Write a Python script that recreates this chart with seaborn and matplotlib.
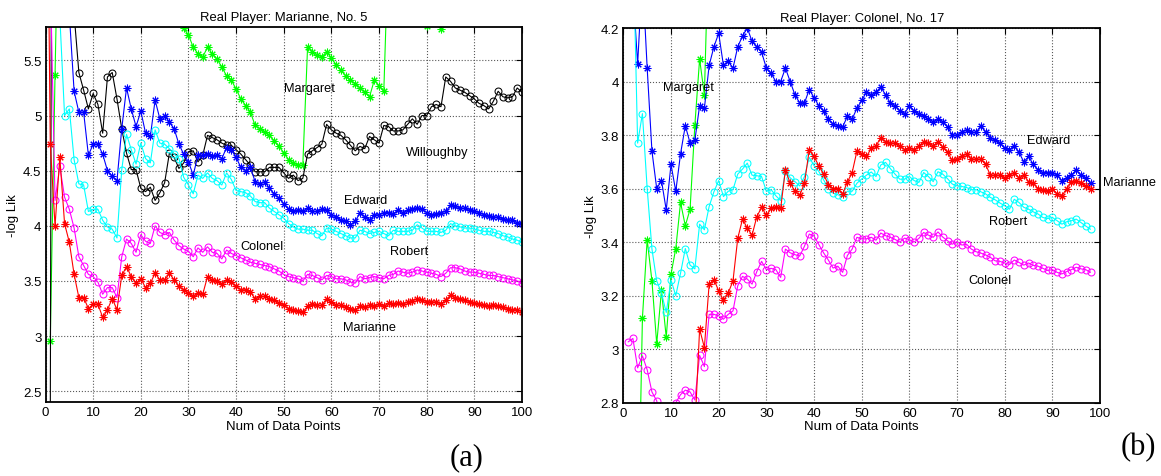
import numpy as np
import matplotlib
matplotlib.use("Agg")
import matplotlib.pyplot as plt
import seaborn as sns
from matplotlib.ticker import MultipleLocator, FormatStrFormatter

nan = np.nan

# ---- panel (a): Real Player Marianne, x = 0..100 (values above 5.8 / below 2.4 are off the axes)
x_a = np.arange(0, 101)

marianne_a = [9.0, 4.74, 4.00, 4.62, 4.02, 3.85, 3.56, 3.35, 3.35, 3.25,
              3.29, 3.29, 3.17, 3.24, 3.34, 3.24, 3.55, 3.63, 3.54, 3.48,
              3.52, 3.44, 3.48, 3.57, 3.51, 3.51, 3.57, 3.51, 3.45, 3.42,
              3.39, 3.36, 3.39, 3.38, 3.54, 3.51, 3.50, 3.47, 3.51, 3.49,
              3.45, 3.42, 3.42, 3.40, 3.34, 3.36, 3.36, 3.34, 3.33, 3.30,
              3.28, 3.25, 3.24, 3.23, 3.22, 3.27, 3.29, 3.28, 3.28, 3.34,
              3.31, 3.28, 3.28, 3.26, 3.25, 3.24, 3.27, 3.26, 3.28, 3.27,
              3.29, 3.27, 3.30, 3.29, 3.30, 3.29, 3.31, 3.32, 3.34, 3.33,
              3.31, 3.31, 3.31, 3.29, 3.33, 3.37, 3.35, 3.34, 3.33, 3.31,
              3.30, 3.29, 3.28, 3.27, 3.28, 3.27, 3.26, 3.25, 3.24, 3.24,
              3.22]

colonel_a = [nan, 6.3, 4.23, 4.54, 4.26, 4.15, 3.98, 3.72, 3.64, 3.56,
             3.54, 3.49, 3.38, 3.44, 3.44, 3.35, 3.72, 3.88, 3.84, 3.76,
             3.92, 3.86, 3.84, 4.00, 3.94, 3.92, 3.94, 3.87, 3.82, 3.79,
             3.77, 3.72, 3.80, 3.76, 3.81, 3.76, 3.75, 3.70, 3.78, 3.75,
             3.73, 3.71, 3.69, 3.67, 3.66, 3.65, 3.64, 3.63, 3.61, 3.59,
             3.56, 3.54, 3.53, 3.52, 3.50, 3.56, 3.55, 3.53, 3.51, 3.55,
             3.54, 3.52, 3.52, 3.51, 3.49, 3.48, 3.54, 3.52, 3.53, 3.54,
             3.53, 3.52, 3.55, 3.56, 3.59, 3.58, 3.57, 3.58, 3.60, 3.59,
             3.58, 3.57, 3.56, 3.54, 3.57, 3.62, 3.62, 3.61, 3.59, 3.58,
             3.58, 3.57, 3.56, 3.55, 3.55, 3.54, 3.53, 3.52, 3.51, 3.50,
             3.48]

robert_a = [nan, 8.0, 7.0, 5.9, 5.00, 5.06, 4.60, 4.38, 4.37, 4.13,
            4.15, 4.15, 4.05, 3.99, 3.97, 3.89, 4.51, 4.83, 4.69, 4.56,
            4.75, 4.61, 4.57, 4.87, 4.75, 4.74, 4.70, 4.65, 4.61, 4.44,
            4.37, 4.29, 4.46, 4.43, 4.48, 4.43, 4.41, 4.37, 4.48, 4.42,
            4.32, 4.31, 4.30, 4.27, 4.22, 4.21, 4.21, 4.16, 4.13, 4.10,
            4.07, 4.02, 3.99, 3.97, 3.97, 3.96, 3.96, 3.93, 3.91, 3.98,
            3.97, 3.95, 3.93, 3.91, 3.89, 3.89, 3.96, 3.95, 3.93, 3.94,
            3.95, 3.93, 3.91, 3.96, 3.95, 3.95, 3.95, 3.96, 4.01, 3.98,
            3.95, 3.95, 3.95, 3.94, 3.96, 4.02, 4.00, 3.99, 3.98, 3.98,
            3.97, 3.96, 3.95, 3.95, 3.94, 3.93, 3.91, 3.90, 3.88, 3.87,
            3.85]

edward_a = [nan, 8.0, 7.5, 7.0, 6.5, 5.92, 5.22, 5.03, 5.03, 4.64,
            4.74, 4.74, 4.65, 4.50, 4.45, 4.41, 4.88, 5.25, 5.06, 4.90,
            5.04, 4.84, 4.81, 5.14, 4.97, 5.00, 4.94, 4.88, 4.74, 4.65,
            4.58, 4.46, 4.64, 4.64, 4.65, 4.63, 4.64, 4.61, 4.71, 4.69,
            4.62, 4.53, 4.50, 4.53, 4.40, 4.38, 4.40, 4.34, 4.29, 4.25,
            4.20, 4.15, 4.13, 4.14, 4.13, 4.16, 4.13, 4.13, 4.15, 4.14,
            4.10, 4.08, 4.05, 4.04, 4.01, 4.04, 4.12, 4.08, 4.05, 4.10,
            4.10, 4.12, 4.12, 4.11, 4.14, 4.12, 4.14, 4.15, 4.16, 4.15,
            4.12, 4.10, 4.11, 4.12, 4.13, 4.19, 4.18, 4.16, 4.16, 4.14,
            4.13, 4.12, 4.10, 4.09, 4.08, 4.08, 4.06, 4.05, 4.05, 4.03,
            4.02]

willoughby_a = [nan, 2.2, 20.0, 15.0, 10.0, 8.0, 5.92, 5.39, 5.23, 5.06,
                5.20, 5.10, 4.84, 5.35, 5.39, 5.15, 4.88, 4.66, 4.51, 4.51,
                4.34, 4.31, 4.35, 4.23, 4.30, 4.39, 4.66, 4.62, 4.52, 4.57,
                4.67, 4.68, 4.58, 4.64, 4.82, 4.80, 4.78, 4.75, 4.73, 4.73,
                4.69, 4.65, 4.60, 4.55, 4.49, 4.49, 4.49, 4.53, 4.53, 4.53,
                4.48, 4.43, 4.46, 4.41, 4.43, 4.65, 4.68, 4.71, 4.74, 4.92,
                4.87, 4.84, 4.82, 4.78, 4.73, 4.68, 4.72, 4.70, 4.81, 4.78,
                4.75, 4.91, 4.90, 4.86, 4.86, 4.87, 4.92, 4.97, 4.92, 5.00,
                5.00, 5.08, 5.10, 5.08, 5.35, 5.31, 5.25, 5.23, 5.21, 5.18,
                5.15, 5.11, 5.09, 5.06, 5.13, 5.22, 5.17, 5.16, 5.17, 5.25,
                5.21]

margaret_a = [nan, 2.96, 5.37, 7.5, 7.4, 7.3, 7.2, 7.1, 7.0, 6.9,
              6.8, 6.8, 6.7, 6.6, 6.6, 6.5, 6.5, 6.4, 6.4, 6.3,
              6.3, 6.2, 6.2, 6.1, 6.1, 6.0, 6.0, 6.0, 5.95, 5.79,
              5.73, 5.62, 5.56, 5.53, 5.62, 5.56, 5.51, 5.44, 5.36, 5.32,
              5.24, 5.15, 5.09, 5.03, 4.91, 4.88, 4.85, 4.82, 4.77, 4.72,
              4.66, 4.60, 4.57, 4.55, 4.55, 5.62, 5.58, 5.55, 5.53, 5.58,
              5.52, 5.46, 5.41, 5.36, 5.32, 5.29, 5.25, 5.21, 5.17, 5.32,
              5.27, 5.22, 6.6, 6.5, 6.4, 6.3, 6.2, 6.1, 6.0, 5.95,
              5.81, 5.9, 5.88, 5.78, 6.0, 6.1, 6.1, 6.2, 6.2, 6.2,
              6.3, 6.3, 6.3, 6.3, 6.4, 6.4, 6.4, 6.4, 6.4, 6.5,
              6.5]

# ---- panel (b): Real Player Colonel, x = 1..98 (values above 4.2 / below 2.8 are off the axes)
x_b = np.arange(1, 99)

edward_b = [4.6, 4.35, 4.065, 4.4, 4.05, 3.74, 3.60, 3.63, 3.52, 3.69,
            3.59, 3.73, 3.835, 3.77, 3.78, 3.91, 3.90, 4.06, 4.13, 4.18,
            4.06, 4.075, 4.05, 4.13, 4.17, 4.20, 4.15, 4.13, 4.11, 4.05,
            4.03, 4.00, 4.00, 4.05, 4.00, 3.95, 3.92, 3.92, 3.97, 3.94,
            3.91, 3.89, 3.86, 3.84, 3.835, 3.83, 3.87, 3.86, 3.90, 3.93,
            3.96, 3.95, 3.96, 3.98, 3.95, 3.92, 3.91, 3.89, 3.88, 3.91,
            3.89, 3.88, 3.87, 3.86, 3.85, 3.86, 3.85, 3.83, 3.80, 3.80,
            3.81, 3.82, 3.81, 3.81, 3.835, 3.81, 3.79, 3.78, 3.77, 3.75,
            3.745, 3.76, 3.735, 3.70, 3.72, 3.69, 3.67, 3.66, 3.66, 3.66,
            3.65, 3.63, 3.64, 3.65, 3.67, 3.65, 3.64, 3.62]

marianne_b = [2.45, 2.5, 2.55, 2.5, 2.55, 2.6, 2.55, 2.6, 2.6, 2.65,
              2.6, 2.65, 2.7, 2.7, 2.7, 3.075, 3.006, 3.243, 3.26, 3.218,
              3.183, 3.21, 3.255, 3.414, 3.486, 3.452, 3.426, 3.495, 3.53, 3.50,
              3.527, 3.53, 3.526, 3.67, 3.62, 3.59, 3.575, 3.62, 3.745, 3.72,
              3.685, 3.654, 3.615, 3.60, 3.60, 3.58, 3.625, 3.66, 3.74, 3.73,
              3.72, 3.75, 3.76, 3.79, 3.775, 3.77, 3.77, 3.76, 3.745, 3.75,
              3.745, 3.76, 3.775, 3.77, 3.76, 3.775, 3.755, 3.735, 3.705, 3.71,
              3.72, 3.73, 3.71, 3.71, 3.71, 3.69, 3.65, 3.65, 3.65, 3.64,
              3.65, 3.66, 3.64, 3.65, 3.625, 3.62, 3.60, 3.596, 3.59, 3.60,
              3.58, 3.573, 3.60, 3.625, 3.63, 3.62, 3.61, 3.60]

robert_b = [4.9, 4.55, 3.77, 3.88, 3.60, 3.374, 3.255, 3.21, 3.137, 3.258,
            3.20, 3.284, 3.376, 3.314, 3.30, 3.467, 3.446, 3.533, 3.588, 3.63,
            3.57, 3.59, 3.596, 3.654, 3.673, 3.695, 3.65, 3.648, 3.645, 3.59,
            3.596, 3.573, 3.555, 3.667, 3.64, 3.626, 3.61, 3.645, 3.717, 3.686,
            3.664, 3.633, 3.60, 3.583, 3.577, 3.57, 3.59, 3.59, 3.62, 3.636,
            3.65, 3.662, 3.645, 3.688, 3.698, 3.675, 3.654, 3.635, 3.635, 3.645,
            3.63, 3.623, 3.66, 3.645, 3.626, 3.663, 3.654, 3.637, 3.617, 3.61,
            3.608, 3.604, 3.596, 3.596, 3.588, 3.58, 3.567, 3.558, 3.546, 3.536,
            3.523, 3.56, 3.548, 3.53, 3.523, 3.513, 3.505, 3.492, 3.488, 3.492,
            3.48, 3.467, 3.476, 3.48, 3.486, 3.473, 3.46, 3.448]

colonel_b = [3.027, 3.04, 2.93, 2.975, 2.923, 2.84, 2.807, 2.72, 2.70, 2.74,
             2.80, 2.83, 2.847, 2.84, 2.81, 2.977, 2.935, 3.13, 3.13, 3.125,
             3.112, 3.13, 3.143, 3.237, 3.272, 3.262, 3.243, 3.29, 3.328, 3.297,
             3.302, 3.297, 3.268, 3.374, 3.36, 3.353, 3.348, 3.385, 3.43, 3.423,
             3.391, 3.36, 3.333, 3.303, 3.31, 3.287, 3.35, 3.374, 3.418, 3.412,
             3.412, 3.418, 3.407, 3.434, 3.424, 3.418, 3.41, 3.40, 3.415, 3.409,
             3.40, 3.414, 3.436, 3.426, 3.418, 3.438, 3.419, 3.405, 3.392, 3.402,
             3.389, 3.392, 3.374, 3.364, 3.359, 3.352, 3.343, 3.33, 3.328, 3.322,
             3.316, 3.333, 3.324, 3.314, 3.322, 3.313, 3.31, 3.302, 3.294, 3.297,
             3.287, 3.281, 3.29, 3.297, 3.306, 3.30, 3.297, 3.287]

margaret_b = [2.3, 2.25, 2.21, 3.115, 3.409, 3.255, 3.02, 3.22, 3.044, 3.28,
              3.376, 3.548, 3.461, 3.523, 3.837, 4.084, 3.95, 4.6]

# ---- style
sns.set_style("white", {"text.color": "black", "axes.labelcolor": "black",
                        "xtick.color": "black", "ytick.color": "black",
                        "axes.edgecolor": "black"})
plt.rcParams['font.family'] = ['Liberation Sans', 'DejaVu Sans']

STAR = (8, 2, 0)  # matlab-like asterisk


def draw(ax, x, y, color, marker):
    hollow = marker == 'o'
    sns.lineplot(x=x, y=y, ax=ax, color=color, linewidth=0.8, errorbar=None,
                 marker=marker, markersize=5 if hollow else 5.5,
                 markeredgecolor=color, markeredgewidth=0.75,
                 markerfacecolor='none' if hollow else color)


def style_axes(ax, ylim, ystep, title):
    ax.set_xlim(0, 100)
    ax.set_ylim(*ylim)
    ax.xaxis.set_major_locator(MultipleLocator(10))
    ax.yaxis.set_major_locator(MultipleLocator(ystep))
    ax.yaxis.set_major_formatter(FormatStrFormatter('%g'))
    ax.grid(True, linestyle=':', color='0.35', linewidth=0.8)
    ax.tick_params(direction='in', top=True, right=True, length=4, width=0.8,
                   labelsize=9.5, pad=3)
    for sp in ax.spines.values():
        sp.set_linewidth(1.3)
        sp.set_color('black')
    ax.set_xlabel('Num of Data Points', fontsize=9.5, labelpad=1)
    ax.set_ylabel('-log Lik', fontsize=9.5, labelpad=3)
    ax.set_title(title, fontsize=9.4, pad=5)


fig = plt.figure(figsize=(11.61, 4.77), dpi=100)
ax1 = fig.add_axes([0.0392, 0.1545, 0.4104, 0.7862])
ax2 = fig.add_axes([0.5369, 0.1537, 0.4106, 0.7855])

draw(ax1, x_a, margaret_a, '#00ff00', STAR)
draw(ax1, x_a, willoughby_a, 'black', 'o')
draw(ax1, x_a, edward_a, 'blue', STAR)
draw(ax1, x_a, robert_a, 'cyan', 'o')
draw(ax1, x_a, colonel_a, 'magenta', 'o')
draw(ax1, x_a, marianne_a, 'red', STAR)

draw(ax2, x_b[:len(margaret_b)], margaret_b, '#00ff00', STAR)
draw(ax2, x_b, edward_b, 'blue', STAR)
draw(ax2, x_b, robert_b, 'cyan', 'o')
draw(ax2, x_b, colonel_b, 'magenta', 'o')
draw(ax2, x_b, marianne_b, 'red', STAR)

style_axes(ax1, (2.4, 5.8), 0.5, 'Real Player: Marianne, No. 5')
style_axes(ax2, (2.8, 4.2), 0.2, 'Real Player: Colonel, No. 17')

lab = dict(fontsize=9.2, ha='left', va='center')
ax1.text(50.0, 5.25, 'Margaret', **lab)
ax1.text(75.7, 4.67, 'Willoughby', **lab)
ax1.text(62.6, 4.23, 'Edward', **lab)
ax1.text(41.0, 3.82, 'Colonel', **lab)
ax1.text(72.3, 3.77, 'Robert', **lab)
ax1.text(62.4, 3.08, 'Marianne', **lab)

ax2.text(8.3, 3.98, 'Margaret', **lab)
ax2.text(84.7, 3.78, 'Edward', **lab)
ax2.text(100.6, 3.624, 'Marianne', **lab)
ax2.text(76.7, 3.48, 'Robert', **lab)
ax2.text(72.3, 3.258, 'Colonel', **lab)

serif = ['Liberation Serif', 'DejaVu Serif']
fig.text(467 / 1161, 1 - 458 / 477, '(a)', family=serif, fontsize=22,
         ha='center', va='center')
fig.text(1138 / 1161, 1 - 448 / 477, '(b)', family=serif, fontsize=22,
         ha='center', va='center')

fig.savefig('out.png', dpi=100)
